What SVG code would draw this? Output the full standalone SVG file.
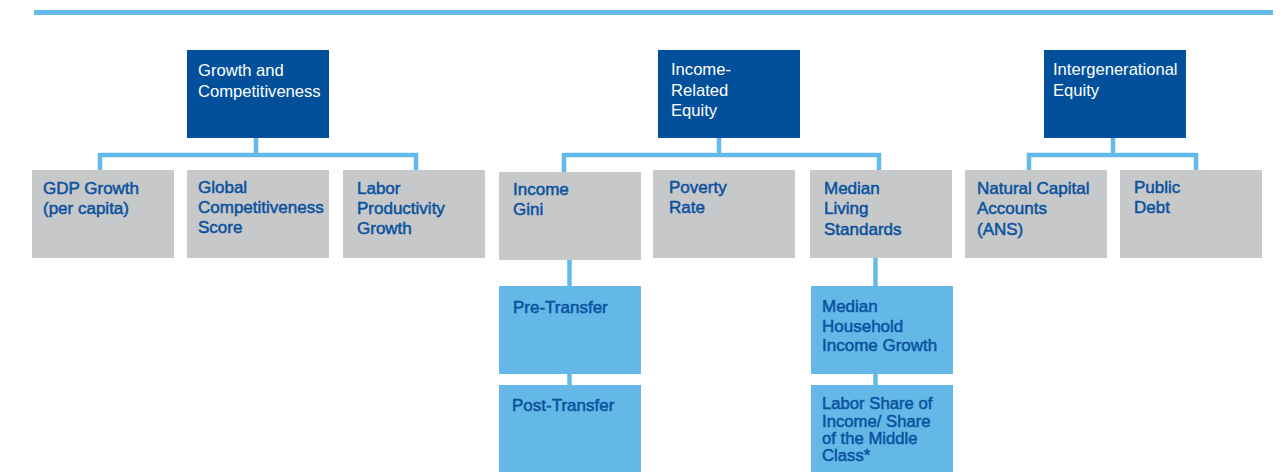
<svg xmlns="http://www.w3.org/2000/svg" width="1287" height="472" viewBox="0 0 1287 472">
<style>
.hd{fill:#02509B}
.gr{fill:#C7C8CA}
.lb{fill:#63B8E8}
.ht{font-family:"Liberation Sans",Arial,sans-serif;font-size:16.6px;fill:#FFFFFF}
.ct{font-family:"Liberation Sans",Arial,sans-serif;font-size:17px;fill:#0A529E;stroke:#0A529E;stroke-width:0.5}
.cs{font-size:16.7px}
.cn{fill:none;stroke:#64BBEA;stroke-width:4.5}
</style>
<rect x="34" y="10" width="1239" height="5" fill="#64BBEA"/>
<g id="connectors">
<path class="cn" d="M256 138V155M100 170V155H416V170"/>
<path class="cn" d="M719 138V155M564 172V155H879V170"/>
<path class="cn" d="M1113 138V155M1029 170V155H1196V170"/>
<path class="cn" d="M569.5 260V286M569.5 374V385M875.5 258V286M875.5 374V385"/>
</g>
<g id="growth">
<rect class="hd" x="187" y="50" width="142" height="88"/>
<text class="ht" x="198" y="76">Growth and</text>
<text class="ht" x="198" y="97">Competitiveness</text>
</g>
<g id="income">
<rect class="hd" x="658" y="50" width="142" height="88"/>
<text class="ht" x="671" y="75">Income-</text>
<text class="ht" x="671" y="96">Related</text>
<text class="ht" x="671" y="116">Equity</text>
</g>
<g id="intergenerational">
<rect class="hd" x="1044" y="50" width="142" height="88"/>
<text class="ht" x="1053" y="75">Intergenerational</text>
<text class="ht" x="1053" y="96">Equity</text>
</g>
<g id="gdp">
<rect class="gr" x="32" y="170" width="142" height="88"/>
<text class="ct" x="43" y="194">GDP Growth</text>
<text class="ct" x="43" y="214">(per capita)</text>
</g>
<g id="global">
<rect class="gr" x="187" y="170" width="142" height="88"/>
<text class="ct" x="198" y="193">Global</text>
<text class="ct" x="198" y="213">Competitiveness</text>
<text class="ct" x="198" y="233">Score</text>
</g>
<g id="labor">
<rect class="gr" x="343" y="170" width="142" height="88"/>
<text class="ct" x="357" y="194">Labor</text>
<text class="ct" x="357" y="214">Productivity</text>
<text class="ct" x="357" y="234">Growth</text>
</g>
<g id="gini">
<rect class="gr" x="499" y="172" width="142" height="88"/>
<text class="ct" x="513" y="195">Income</text>
<text class="ct" x="513" y="215">Gini</text>
</g>
<g id="poverty">
<rect class="gr" x="653" y="170" width="142" height="88"/>
<text class="ct" x="669" y="193">Poverty</text>
<text class="ct" x="669" y="213">Rate</text>
</g>
<g id="median">
<rect class="gr" x="810" y="170" width="142" height="88"/>
<text class="ct" x="824" y="194">Median</text>
<text class="ct" x="824" y="214">Living</text>
<text class="ct" x="824" y="235">Standards</text>
</g>
<g id="natural">
<rect class="gr" x="965" y="170" width="142" height="88"/>
<text class="ct" x="977" y="194">Natural Capital</text>
<text class="ct" x="977" y="214">Accounts</text>
<text class="ct" x="977" y="235">(ANS)</text>
</g>
<g id="debt">
<rect class="gr" x="1120" y="170" width="142" height="88"/>
<text class="ct" x="1134" y="193">Public</text>
<text class="ct" x="1134" y="213">Debt</text>
</g>
<g id="pretransfer">
<rect class="lb" x="499" y="286" width="142" height="88"/>
<text class="ct" x="513" y="313">Pre-Transfer</text>
</g>
<g id="posttransfer">
<rect class="lb" x="499" y="385" width="142" height="87"/>
<text class="ct" x="512" y="411">Post-Transfer</text>
</g>
<g id="household">
<rect class="lb" x="811" y="286" width="142" height="88"/>
<text class="ct" x="822" y="312">Median</text>
<text class="ct" x="822" y="332">Household</text>
<text class="ct" x="822" y="351">Income Growth</text>
</g>
<g id="laborshare">
<rect class="lb" x="811" y="385" width="142" height="87"/>
<text class="ct cs" x="822" y="409">Labor Share of</text>
<text class="ct cs" x="822" y="427">Income/ Share</text>
<text class="ct cs" x="822" y="444">of the Middle</text>
<text class="ct cs" x="822" y="461">Class*</text>
</g>
</svg>
